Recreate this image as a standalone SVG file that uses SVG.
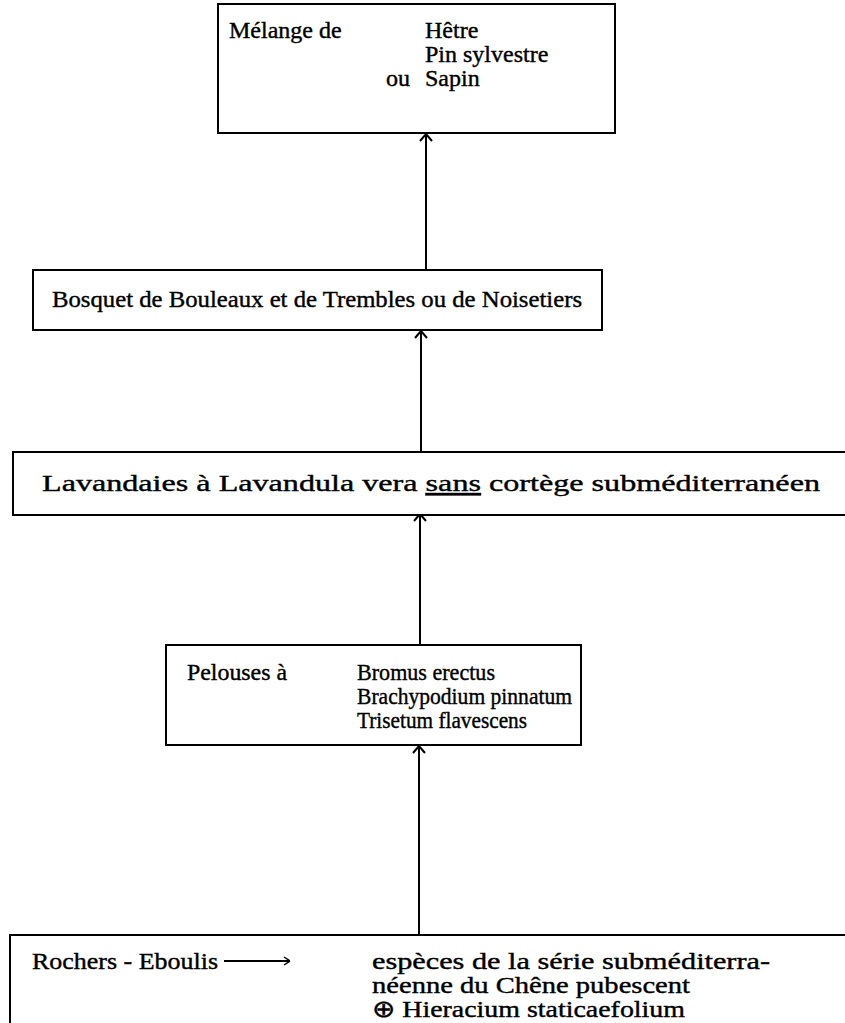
<svg xmlns="http://www.w3.org/2000/svg" width="845" height="1023" viewBox="0 0 845 1023">
<style>
.box{fill:#fff;stroke:#000;stroke-width:2}
.conn{stroke:#000;stroke-width:2;fill:none}
.t{stroke:#000;stroke-width:0.4}
</style>
<defs>
<marker id="ah" viewBox="0 0 14 14" refX="13" refY="7" markerWidth="14" markerHeight="14" markerUnits="userSpaceOnUse" orient="auto">
<path d="M6,1 L13,7 L6,13" fill="none" stroke="#000" stroke-width="2"/>
</marker>
<marker id="ah2" viewBox="0 0 10 10" refX="10" refY="5" markerWidth="10" markerHeight="10" markerUnits="userSpaceOnUse" orient="auto">
<path d="M4,1 L10,5 L4,9" fill="none" stroke="#000" stroke-width="1.5"/>
</marker>
</defs>
<rect width="845" height="1023" fill="#fff"/>
<g id="connectors">
<line class="conn" x1="426" y1="270" x2="426" y2="134" marker-end="url(#ah)"/>
<line class="conn" x1="421" y1="451" x2="421" y2="331" marker-end="url(#ah)"/>
<line class="conn" x1="420" y1="645" x2="420" y2="514" marker-end="url(#ah)"/>
<line class="conn" x1="419" y1="935" x2="419" y2="746" marker-end="url(#ah)"/>
</g>
<g font-family="Liberation Serif, Times New Roman, serif" font-size="24" fill="#000">
<g id="n1">
<rect class="box" x="218" y="4" width="397" height="129"/>
<text class="t" x="229" y="38">Mélange de</text>
<text class="t" x="425" y="38">Hêtre</text>
<text class="t" x="425" y="62">Pin sylvestre</text>
<text class="t" x="386" y="86">ou</text>
<text class="t" x="425" y="86">Sapin</text>
</g>
<g id="n2">
<rect class="box" x="33" y="270" width="569" height="60"/>
<text class="t" x="52" y="307" textLength="530" lengthAdjust="spacingAndGlyphs">Bosquet de Bouleaux et de Trembles ou de Noisetiers</text>
</g>
<g id="n3">
<rect class="box" x="13" y="452" width="840" height="63"/>
<text class="t" x="42" y="491" textLength="778" lengthAdjust="spacingAndGlyphs">Lavandaies à Lavandula vera <tspan text-decoration="underline">sans</tspan> cortège subméditerranéen</text>
</g>
<g id="n4">
<rect class="box" x="166" y="645" width="415" height="100"/>
<text class="t" x="187" y="680" textLength="100" lengthAdjust="spacingAndGlyphs">Pelouses à</text>
<text class="t" x="357" y="680" textLength="138" lengthAdjust="spacingAndGlyphs">Bromus erectus</text>
<text class="t" x="357" y="704" textLength="215" lengthAdjust="spacingAndGlyphs">Brachypodium pinnatum</text>
<text class="t" x="357" y="728" textLength="170" lengthAdjust="spacingAndGlyphs">Trisetum flavescens</text>
</g>
<g id="n5">
<rect class="box" x="10" y="935" width="840" height="100"/>
<text class="t" x="32" y="969" textLength="186" lengthAdjust="spacingAndGlyphs">Rochers - Eboulis</text>
<line class="conn" x1="224" y1="961" x2="290" y2="961" stroke-width="1.5" marker-end="url(#ah2)"/>
<text class="t" x="372" y="969" textLength="398" lengthAdjust="spacingAndGlyphs">espèces de la série subméditerra-</text>
<text class="t" x="372" y="993" textLength="318" lengthAdjust="spacingAndGlyphs">néenne du Chêne pubescent</text>
<text class="t" x="372" y="1017" textLength="313" lengthAdjust="spacingAndGlyphs">⊕ Hieracium staticaefolium</text>
</g>
</g>
</svg>
